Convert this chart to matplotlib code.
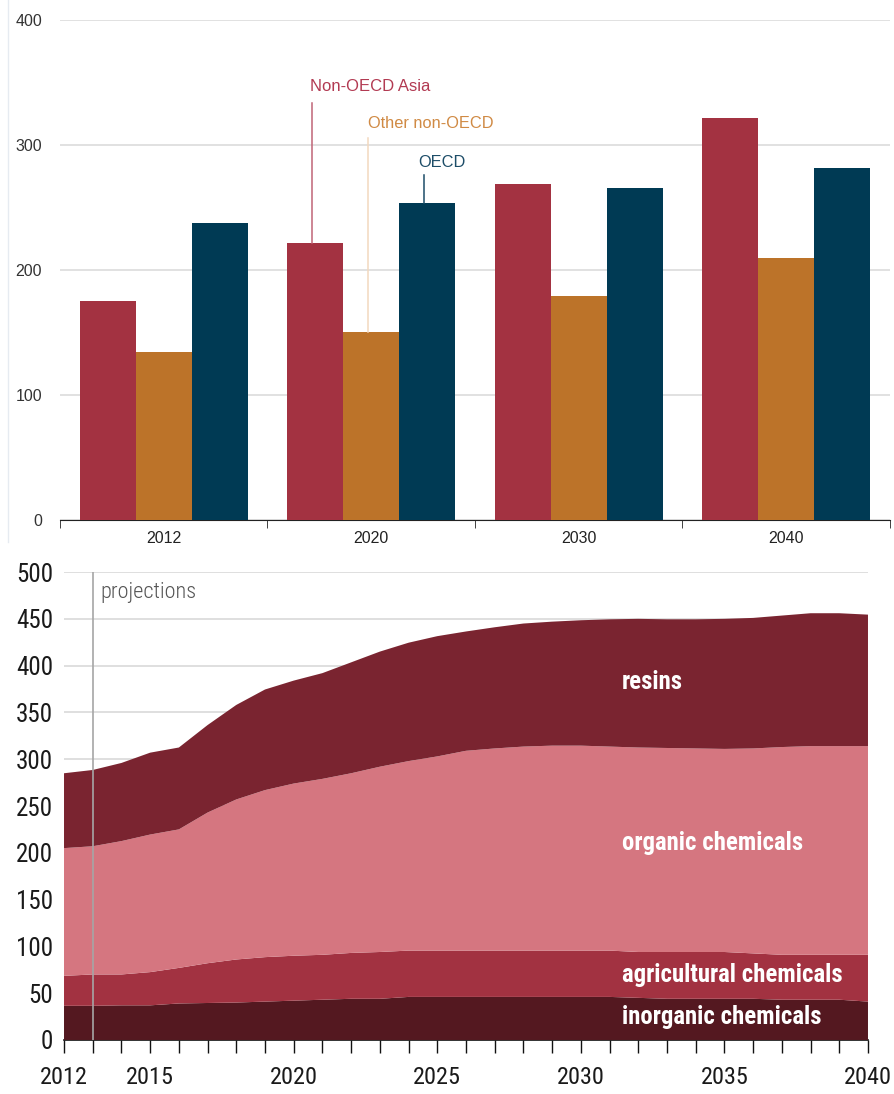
import matplotlib.pyplot as plt
from matplotlib.lines import Line2D
from matplotlib.ticker import FixedLocator

# top panel: bars by region
bar_years = ['2012', '2020', '2030', '2040']
non_oecd_asia = [175, 222, 269, 322]
other_non_oecd = [134, 150, 179, 210]
oecd = [238, 254, 266, 282]

# bottom panel: stacked areas by chemical group
years = list(range(2012, 2041))
inorganic = [36.5, 36.5, 37, 37, 39, 39.5, 40, 41, 42, 43, 44, 44, 46, 46, 46,
             46, 46, 46, 46, 46, 45, 44, 44, 44, 44, 43, 43, 43, 41]
agricultural = [32, 33.5, 33, 35.5, 38, 42.5, 46, 47.5, 48, 48, 49, 50, 49.5, 49.5, 49.5,
                49.5, 49.5, 49.5, 49.5, 49.5, 49, 50, 50, 50, 48.5, 48, 48, 48, 50]
organic = [136.5, 137, 142.5, 147, 148, 161, 171, 178.5, 184, 188, 192, 198, 202.5, 207.5, 213.5,
           216, 218, 219, 219, 218, 218.5, 218, 217.5, 217, 219, 222, 223, 223, 223]
resins = [80, 81.5, 83.5, 87.5, 87.5, 93.5, 101, 107.5, 110, 113, 118.5, 123, 126.5, 128.5, 127.5,
          129.5, 131.5, 132.5, 134, 136, 137.5, 137.5, 138, 139, 139.5, 140.5, 142, 142, 140.5]
labelled_years = [2012, 2015, 2020, 2025, 2030, 2035, 2040]

ASIA = '#a33241'
OTHER = '#bc7329'
NAVY = '#003a54'

arial = ['Liberation Sans', 'DejaVu Sans']
narrow = ['Liberation Sans Narrow', 'DejaVu Sans Condensed', 'Roboto Condensed', 'DejaVu Sans']

fig = plt.figure(figsize=(8.94, 10.94), dpi=100)

# ---------- bars ----------
ax1 = fig.add_axes([0.0671, 0.5247, 0.9284, 0.457])
w = 0.27
pos = list(range(len(bar_years)))
ax1.bar([p - w for p in pos], non_oecd_asia, w, color=ASIA, zorder=3)
ax1.bar(pos, other_non_oecd, w, color=OTHER, zorder=3)
ax1.bar([p + w for p in pos], oecd, w, color=NAVY, zorder=3)

ax1.set_xlim(-0.5, 3.5)
ax1.set_ylim(0, 400)
ax1.set_yticks([0, 100, 200, 300, 400])
ax1.yaxis.grid(True, color='#dcdcdc', linewidth=1.2, zorder=0)
for s in ['top', 'right', 'left']:
    ax1.spines[s].set_visible(False)
ax1.spines['bottom'].set_color('#222222')
ax1.tick_params(axis='y', length=0, pad=13, labelsize=11.5, labelcolor='#333333')
ax1.set_xticks(pos)
ax1.set_xticklabels(bar_years, fontsize=11.5, color='#222222', family=arial)
ax1.tick_params(axis='x', length=0, pad=8)
ax1.xaxis.set_minor_locator(FixedLocator([-0.5, 0.5, 1.5, 2.5, 3.5]))
ax1.tick_params(axis='x', which='minor', length=6, color='#222222')
for t in ax1.get_yticklabels():
    t.set_family(arial)

# call-out labels on the 2020 group
ax1.plot([1 - w - 0.015] * 2, [non_oecd_asia[1], 334], color='#c06476', lw=1.1, zorder=4)
ax1.text(1 - w - 0.025, 347, 'Non-OECD Asia', color='#b23a52', fontsize=12,
         family=arial, va='center', ha='left')
ax1.plot([0.985] * 2, [other_non_oecd[1], 306], color='#f3d8bf', lw=1.1, zorder=4)
ax1.text(0.985, 317, 'Other non-OECD', color='#d08a44', fontsize=11.8,
         family=arial, va='center', ha='left')
ax1.plot([1 + w - 0.015] * 2, [oecd[1], 276], color='#1d4d68', lw=1.1, zorder=4)
ax1.text(1 + w - 0.045, 286, 'OECD', color='#1d4d68', fontsize=11.8,
         family=arial, va='center', ha='left')

# ---------- stacked areas ----------
ax2 = fig.add_axes([0.0716, 0.0494, 0.8993, 0.4277])
ax2.stackplot(years, inorganic, agricultural, organic, resins,
              colors=['#541820', '#a23241', '#d57680', '#7a2430'],
              linewidth=0, zorder=3)
ax2.set_xlim(2012, 2040)
ax2.set_ylim(0, 500)
ax2.set_yticks(range(0, 501, 50))
ax2.yaxis.grid(True, color='#d9d9d9', linewidth=1.2, zorder=0)
for s in ['top', 'right', 'left']:
    ax2.spines[s].set_visible(False)
ax2.spines['bottom'].set_color('#111111')
ax2.spines['bottom'].set_linewidth(1.2)
ax2.set_xticks(years)
ax2.set_xticklabels([str(y) if y in labelled_years else '' for y in years])
ax2.tick_params(axis='x', length=9, width=1, color='#111111', pad=10,
                labelsize=17.5, labelcolor='#1a1a1a')
ax2.tick_params(axis='y', length=0, pad=8, labelsize=18, labelcolor='#1a1a1a')
for t in ax2.get_xticklabels() + ax2.get_yticklabels():
    t.set_family(narrow)
    t.set_stretch('condensed')

ax2.axvline(2013, color='#a6a6a6', lw=1.2, zorder=4)
ax2.text(2013.25, 478, 'projections', color='#555555', fontsize=16, fontweight='light',
         family=narrow, stretch='condensed', va='center', ha='left')

lab = dict(color='white', fontsize=17.8, fontweight='bold', family=narrow,
           stretch='condensed', zorder=5, ha='left', va='center')
ax2.text(2031.43, 382, 'resins', **lab)
ax2.text(2031.43, 210, 'organic chemicals', **lab)
ax2.text(2031.43, 69.5, 'agricultural chemicals', **lab)
ax2.text(2031.43, 24.5, 'inorganic chemicals', **lab)

# faint frame line at the left of the upper panel
fig.add_artist(Line2D([0.009, 0.009], [0.505, 1.0], transform=fig.transFigure,
                      color='#e6ebf1', lw=1))

fig.savefig('out.png', dpi=100)
